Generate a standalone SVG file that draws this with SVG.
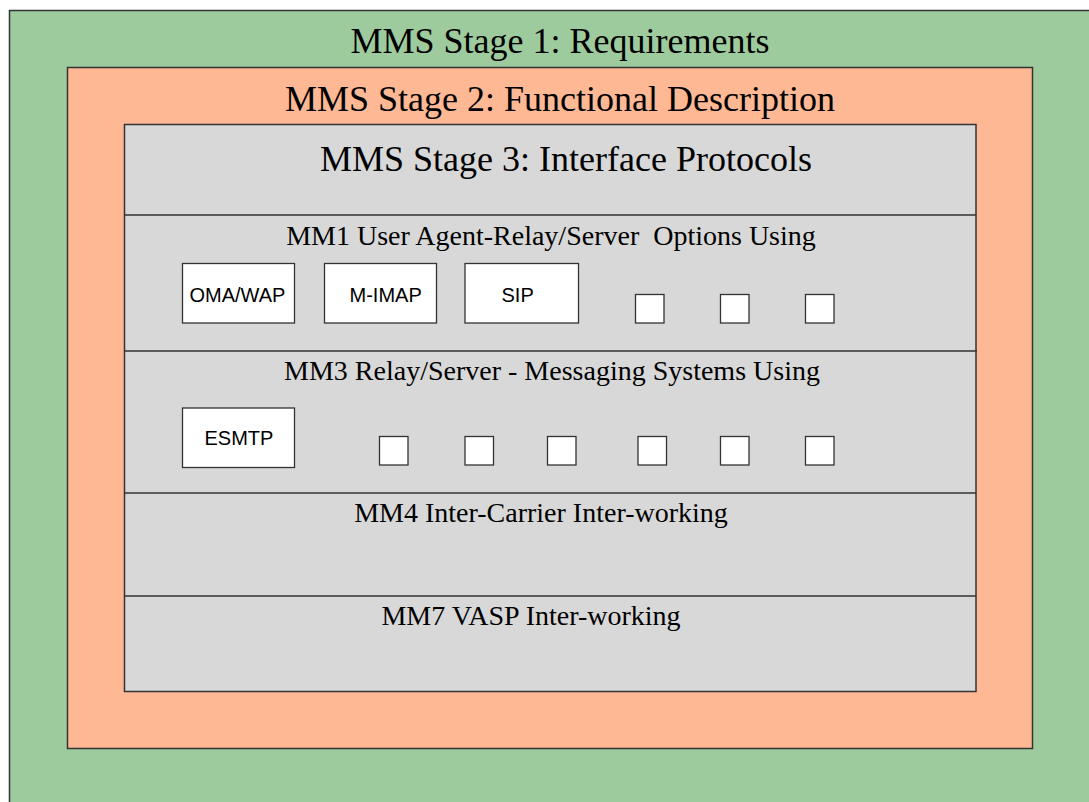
<svg xmlns="http://www.w3.org/2000/svg" width="1089" height="802" viewBox="0 0 1089 802">
<style>
.frame{stroke:#333;stroke-width:1.5}
.sep{stroke:#333;stroke-width:1.5;fill:none}
.box{fill:#fff;stroke:#333;stroke-width:1.3}
.t36{font-family:"Liberation Serif","Times New Roman",serif;font-size:36px;fill:#000;text-anchor:middle}
.t28{font-family:"Liberation Serif","Times New Roman",serif;font-size:28px;fill:#000;text-anchor:middle;white-space:pre}
.t20{font-family:"Liberation Sans",Arial,sans-serif;font-size:20px;fill:#000}
</style>
<rect width="1089" height="802" fill="#fff"/>
<g id="stage1">
<rect class="frame" x="9.5" y="10.5" width="1100" height="800" fill="#9ECB9D"/>
<text class="t36" x="560" y="53">MMS Stage 1: Requirements</text>
</g>
<g id="stage2">
<rect class="frame" x="67.5" y="67.5" width="965" height="681" fill="#FFB894"/>
<text class="t36" x="560" y="111">MMS Stage 2: Functional Description</text>
</g>
<g id="stage3">
<rect class="frame" x="124.5" y="124.5" width="851.5" height="567" fill="#D8D8D8"/>
<text class="t36" x="566" y="171">MMS Stage 3: Interface Protocols</text>
</g>
<g id="connectors">
<line class="sep" x1="124.5" y1="215" x2="976" y2="215"/>
<line class="sep" x1="124.5" y1="351" x2="977" y2="351"/>
<line class="sep" x1="124.5" y1="493" x2="976" y2="493"/>
<line class="sep" x1="124.5" y1="596" x2="976" y2="596"/>
</g>
<g id="mm1">
<text class="t28" x="551" y="245" xml:space="preserve">MM1 User Agent-Relay/Server  Options Using</text>
</g>
<g id="oma-wap"><rect class="box" x="182.5" y="263.5" width="112" height="59.5"/><text class="t20" x="189.5" y="301.5">OMA/WAP</text></g>
<g id="m-imap"><rect class="box" x="324.5" y="263.5" width="112" height="59.5"/><text class="t20" x="349.5" y="301.5">M-IMAP</text></g>
<g id="sip"><rect class="box" x="465" y="263.5" width="113.5" height="59.5"/><text class="t20" x="501.5" y="301.5">SIP</text></g>
<g id="mm1-opt1"><rect class="box" x="635.5" y="294.5" width="28.5" height="28.5"/></g>
<g id="mm1-opt2"><rect class="box" x="720.5" y="294.5" width="28.5" height="28.5"/></g>
<g id="mm1-opt3"><rect class="box" x="805.5" y="294.5" width="28.5" height="28.5"/></g>
<g id="mm3">
<text class="t28" x="552" y="380">MM3 Relay/Server - Messaging Systems Using</text>
</g>
<g id="esmtp"><rect class="box" x="182.5" y="408" width="112" height="59.5"/><text class="t20" x="204.5" y="445">ESMTP</text></g>
<g id="mm3-opt1"><rect class="box" x="379.5" y="436.5" width="28.5" height="28.5"/></g>
<g id="mm3-opt2"><rect class="box" x="465" y="436.5" width="28.5" height="28.5"/></g>
<g id="mm3-opt3"><rect class="box" x="547.5" y="436.5" width="28.5" height="28.5"/></g>
<g id="mm3-opt4"><rect class="box" x="638" y="436.5" width="28.5" height="28.5"/></g>
<g id="mm3-opt5"><rect class="box" x="720.5" y="436.5" width="28.5" height="28.5"/></g>
<g id="mm3-opt6"><rect class="box" x="805.5" y="436.5" width="28.5" height="28.5"/></g>
<g id="mm4"><text class="t28" x="541" y="522">MM4 Inter-Carrier Inter-working</text></g>
<g id="mm7"><text class="t28" x="531" y="625">MM7 VASP Inter-working</text></g>
</svg>
